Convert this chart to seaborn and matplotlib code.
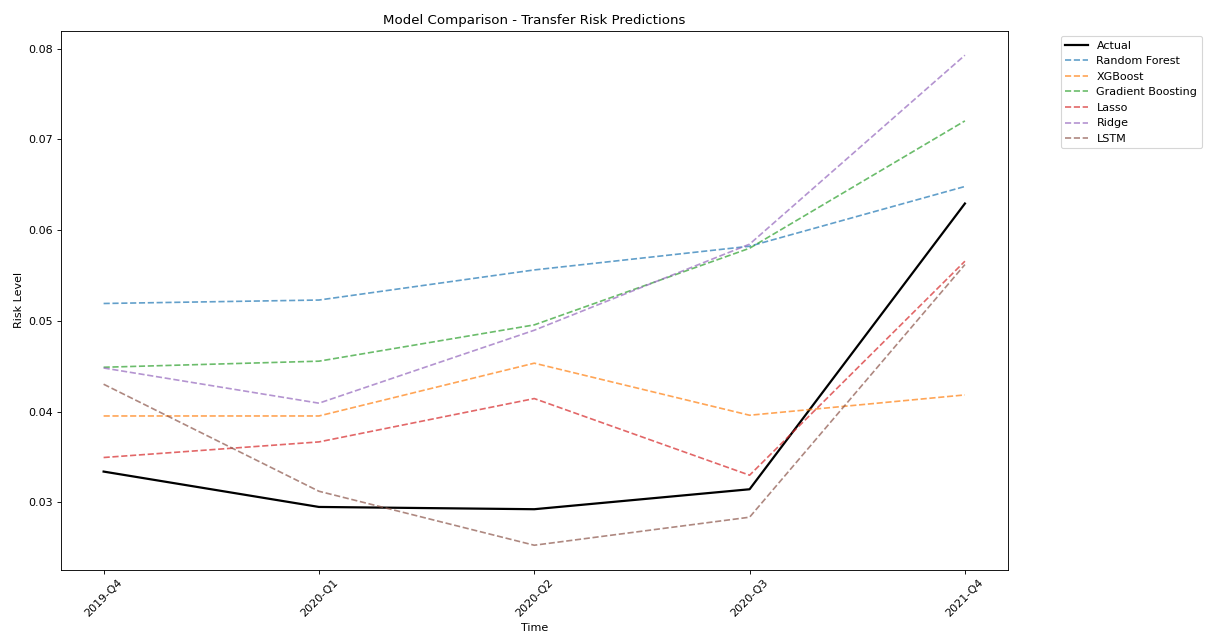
import matplotlib
matplotlib.use("Agg")
import matplotlib.pyplot as plt
import seaborn as sns

quarters = ["2019-Q4", "2020-Q1", "2020-Q2", "2020-Q3", "2021-Q4"]

actual = [0.03338, 0.02948, 0.02923, 0.03143, 0.06293]
random_forest = [0.05191, 0.05229, 0.05561, 0.05822, 0.06481]
xgboost = [0.03951, 0.03951, 0.04533, 0.03959, 0.04183]
gradient_boosting = [0.04488, 0.04555, 0.04955, 0.05800, 0.07204]
lasso = [0.03493, 0.03665, 0.04143, 0.03298, 0.05657]
ridge = [0.04480, 0.04092, 0.04896, 0.05845, 0.07928]
lstm = [0.04301, 0.03121, 0.02526, 0.02835, 0.05620]

models = {
    "Random Forest": random_forest,
    "XGBoost": xgboost,
    "Gradient Boosting": gradient_boosting,
    "Lasso": lasso,
    "Ridge": ridge,
    "LSTM": lstm,
}
palette = sns.color_palette("tab10")

DPI = 80
fig, ax = plt.subplots(figsize=(1206 / DPI, 636 / DPI), dpi=DPI)
fig.subplots_adjust(left=0.0502, right=0.8358, top=0.9517, bottom=0.1042)

sns.lineplot(x=quarters, y=actual, ax=ax, color="black", linewidth=2,
             label="Actual", sort=False)
for i, (name, vals) in enumerate(models.items()):
    sns.lineplot(x=quarters, y=vals, ax=ax, color=palette[i], linewidth=1.5,
                 linestyle="--", alpha=0.7, label=name, sort=False)

ax.set_title("Model Comparison - Transfer Risk Predictions")
ax.set_xlabel("Time")
ax.set_ylabel("Risk Level")
ax.tick_params(axis="x", rotation=45)
ax.legend(bbox_to_anchor=(1.05, 1), loc="upper left")

fig.savefig("out.png", dpi=DPI)
